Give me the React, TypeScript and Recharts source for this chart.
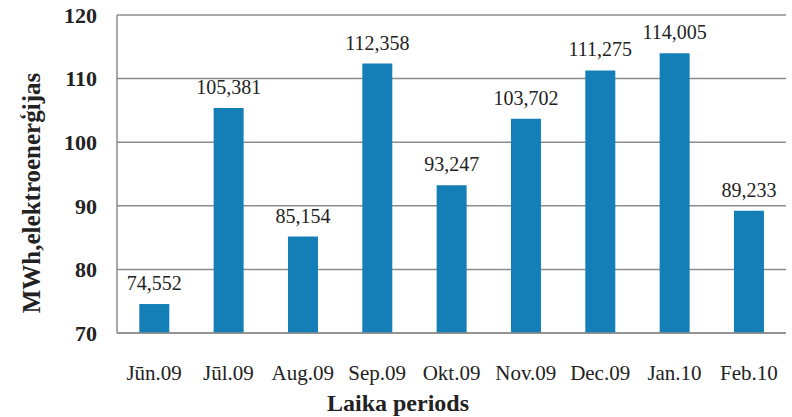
import { Bar, BarChart, CartesianGrid, LabelList, XAxis, YAxis } from "recharts";

const months = ["Jūn.09", "Jūl.09", "Aug.09", "Sep.09", "Okt.09", "Nov.09", "Dec.09", "Jan.10", "Feb.10"];
const energy = [74.552, 105.381, 85.154, 112.358, 93.247, 103.702, 111.275, 114.005, 89.233];
const yTicks = [70, 80, 90, 100, 110, 120];

const FONT = "Liberation Serif";
const TEXT = "#222";
const GRID = "#8c8c8c";

const data = months.map((m, i) => ({ month: m, value: energy[i] }));

const fmt = (v: unknown) => (typeof v === "number" ? v.toFixed(3).replace(".", ",") : String(v));

export default function App() {
  return (
    <div style={{ position: "absolute", left: 0, top: 0, background: "#fff", fontFamily: FONT }}>
      <BarChart
        width={792}
        height={417}
        data={data}
        margin={{ top: 15, right: 6, bottom: 24, left: 0 }}
        barCategoryGap="30%"
        style={{ fontFamily: FONT }}
      >
        <CartesianGrid vertical={false} stroke={GRID} strokeWidth={1.5} />
        <XAxis
          dataKey="month"
          height={60}
          tickLine={false}
          axisLine={{ stroke: GRID, strokeWidth: 1.5 }}
          tickSize={0}
          tickMargin={32}
          tick={{ fill: TEXT, fontFamily: FONT, fontSize: 21 }}
          interval={0}
          label={{
            content: () => (
              <text
                x={398}
                y={411}
                textAnchor="middle"
                fill={TEXT}
                fontFamily={FONT}
                fontSize={24}
                fontWeight="bold"
              >
                Laika periods
              </text>
            ),
          }}
        />
        <YAxis
          width={117}
          domain={[70, 120]}
          ticks={yTicks}
          tickLine={false}
          axisLine={{ stroke: GRID, strokeWidth: 1.5 }}
          tickSize={0}
          tickMargin={20}
          tick={{ fill: TEXT, fontFamily: FONT, fontSize: 22, fontWeight: "bold" }}
          label={{
            content: () => (
              <text
                x={40}
                y={193}
                transform="rotate(-90 40 193)"
                textAnchor="middle"
                fill={TEXT}
                fontFamily={FONT}
                fontSize={25}
                fontWeight="bold"
              >
                MWh,elektroenerģijas
              </text>
            ),
          }}
        />
        <Bar dataKey="value" fill="#137fb6" isAnimationActive={false}>
          <LabelList
            dataKey="value"
            position="top"
            offset={14}
            formatter={fmt}
            fill={TEXT}
            fontFamily={FONT}
            fontSize={20}
          />
        </Bar>
      </BarChart>
    </div>
  );
}
